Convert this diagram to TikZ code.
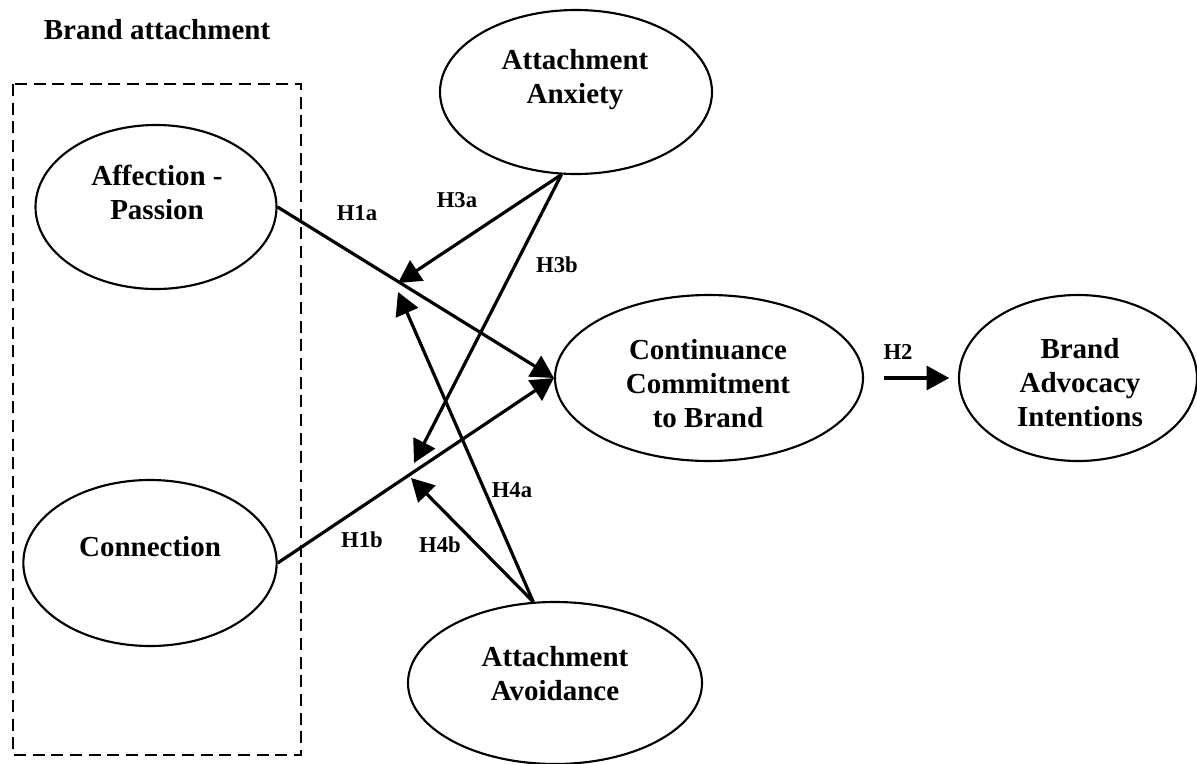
\documentclass[tikz,border=0pt]{standalone}
\usepackage{fontspec}
\setmainfont{Liberation Serif}
\usetikzlibrary{arrows.meta,shapes.geometric}
\begin{document}
\begin{tikzpicture}[x=0.75pt,y=-0.75pt,
  construct/.style={draw, line width=1.6pt, ellipse, inner sep=0pt},
  ctext/.style={font=\bfseries\fontsize{21.75pt}{25.5pt}\selectfont, align=center, inner sep=0pt},
  hlabel/.style={font=\bfseries\fontsize{17pt}{20pt}\selectfont, inner sep=0pt},
  link/.style={line width=2.4pt, -{Triangle[length=17pt,width=18pt]}},
  groupbox/.style={line width=1.5pt, dash pattern=on 9pt off 5pt}
  ]
\useasboundingbox (0,0) rectangle (1197,764);

% title and group box
\node[ctext] (title) at (157,30) {Brand attachment};
\draw[groupbox] (13,84) rectangle (301,755);

% constructs
\node[construct, minimum width=180.75pt, minimum height=123pt] (aff) at (156,207) {};
\node[ctext] (afft) at (157,192.5) {Affection -\\Passion};

\node[construct, minimum width=190pt, minimum height=124.5pt] (conn) at (150,563) {};
\node[ctext] (connt) at (150,547) {Connection};

\node[construct, minimum width=204pt, minimum height=123pt] (anx) at (576,92) {};
\node[ctext] (anxt) at (575,80) {Attachment\\Anxiety};

\node[construct, minimum width=231pt, minimum height=124.5pt] (cont) at (709,378) {};
\node[ctext] (contt) at (708,383.5) {Continuance\\Commitment\\to Brand};

\node[construct, minimum width=178.5pt, minimum height=124.5pt] (adv) at (1078,378) {};
\node[ctext] (advt) at (1080,383) {Brand\\Advocacy\\Intentions};

\node[construct, minimum width=220.5pt, minimum height=121.5pt] (av) at (555,683) {};
\node[ctext] (avt) at (555,673.5) {Attachment\\Avoidance};

% moderation targets
\coordinate (t3a) at (398,283);
\coordinate (t3b) at (414,463);
\coordinate (t4a) at (398,292);
\coordinate (t4b) at (411,478);

% connectors
\draw[link] (aff.east) -- (cont.west);
\draw[link] (conn.east) -- (cont.west);
\draw[link] (anx.260) -- (t3a);
\draw[link] (anx.260) -- (t3b);
\draw[link] (av.105) -- (t4a);
\draw[link] (av.105) -- (t4b);
\draw[link, shorten <=15pt, shorten >=6.5pt] (cont.east) -- (adv.west);

% hypothesis labels
\node[hlabel] (h1a) at (357,213) {H1a};
\node[hlabel] (h1b) at (362,540) {H1b};
\node[hlabel] (h3a) at (457,200) {H3a};
\node[hlabel] (h3b) at (557,265) {H3b};
\node[hlabel] (h4a) at (512,490) {H4a};
\node[hlabel] (h4b) at (440,545) {H4b};
\node[hlabel] (h2) at (898,352) {H2};
\end{tikzpicture}
\end{document}
